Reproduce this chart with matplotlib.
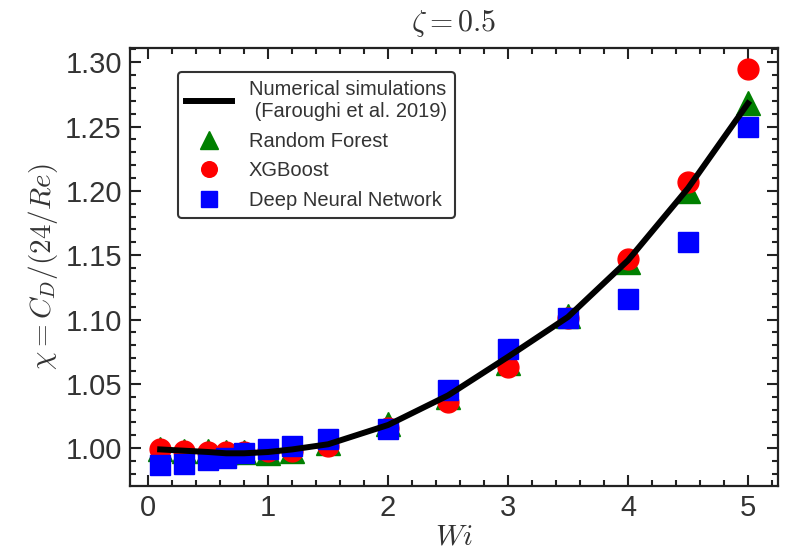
import matplotlib
matplotlib.use("Agg")
import matplotlib.pyplot as plt
from matplotlib.ticker import MultipleLocator

plt.rcParams['font.family'] = ['Liberation Sans', 'DejaVu Sans']
plt.rcParams['mathtext.fontset'] = 'cm'

wi = [0.1, 0.3, 0.5, 0.65, 0.8, 1.0, 1.2, 1.5, 2.0, 2.5, 3.0, 3.5, 4.0, 4.5, 5.0]
sim = [0.999, 0.998, 0.997, 0.996, 0.996, 0.997, 0.999, 1.003, 1.018, 1.041, 1.071, 1.102, 1.146, 1.202, 1.268]
rf = [0.999, 0.998, 0.998, 0.997, 0.997, 0.996, 0.998, 1.004, 1.019, 1.040, 1.066, 1.103, 1.145, 1.200, 1.268]
xgb = [0.999, 0.998, 0.997, 0.997, 0.997, 0.998, 0.998, 1.002, 1.016, 1.036, 1.063, 1.101, 1.147, 1.207, 1.295]
dnn = [0.987, 0.988, 0.991, 0.992, 0.996, 0.999, 1.002, 1.007, 1.015, 1.045, 1.077, 1.101, 1.116, 1.160, 1.250]

fig = plt.figure(figsize=(7.89, 5.53), dpi=100)
ax = fig.add_axes([0.165, 0.121, 0.821, 0.792])

h_rf, = ax.plot(wi, rf, linestyle='none', marker='^', ms=17, color='green', label='Random Forest', zorder=3)
h_xgb, = ax.plot(wi, xgb, linestyle='none', marker='o', ms=15, color='red', label='XGBoost', zorder=4)
h_dnn, = ax.plot(wi, dnn, linestyle='none', marker='s', ms=15, color='blue', label='Deep Neural Network', zorder=5)
h_sim, = ax.plot(wi, sim, color='black', lw=4.3, label='Numerical simulations\n (Faroughi et al. 2019)', zorder=6)

ax.set_xlim(-0.15, 5.25)
ax.set_ylim(0.9705, 1.311)
ax.xaxis.set_major_locator(MultipleLocator(1))
ax.xaxis.set_minor_locator(MultipleLocator(0.2))
ax.yaxis.set_major_locator(MultipleLocator(0.05))
ax.yaxis.set_minor_locator(MultipleLocator(0.01))
ax.yaxis.set_major_formatter(matplotlib.ticker.FormatStrFormatter('%.2f'))
ax.tick_params(which='both', direction='in', top=True, right=True, width=1.5, colors='#222222', labelcolor='#333333')
ax.tick_params(which='major', length=8, labelsize=21, pad=6)
ax.tick_params(which='minor', length=4)
for s in ax.spines.values():
    s.set_linewidth(1.6)
    s.set_color('#222222')

ax.set_title(r'$\zeta = 0.5$', fontsize=21.5, color='#333333', pad=12)
ax.set_xlabel(r'$Wi$', fontsize=21, color='#333333', labelpad=0)
ax.set_ylabel(r'$\chi = C_D/(24/Re)$', fontsize=21, color='#333333', labelpad=4)

leg = ax.legend(handles=[h_sim, h_rf, h_xgb, h_dnn], loc='upper left',
                bbox_to_anchor=(0.074, 0.945), borderaxespad=0, fontsize=14.5,
                markerscale=0.75, handlelength=2.3, frameon=True, fancybox=True,
                edgecolor='#333333', framealpha=1, labelspacing=0.52)
leg.get_frame().set_linewidth(1.5)
for t in leg.get_texts():
    t.set_color('#333333')

fig.savefig('out.png', dpi=100)
